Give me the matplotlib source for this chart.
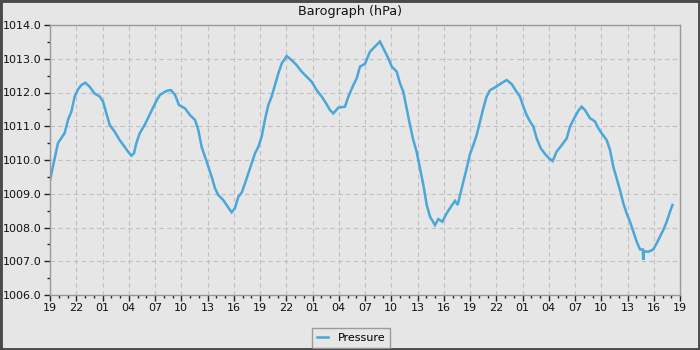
import matplotlib
matplotlib.use("Agg")
import matplotlib.pyplot as plt
from matplotlib.ticker import MultipleLocator, FixedLocator
from matplotlib.patches import Rectangle

# hours since 19:00 on the first day
hours = [0, 0.91, 1.3, 1.68, 2.06, 2.44, 2.82, 3.2, 3.58, 4.04, 4.53, 5.1, 5.68, 6.06,
         6.44, 6.82, 7.39, 7.96, 8.53, 8.91, 9.3, 9.6, 9.87, 10.25, 10.82, 11.2, 11.77,
         12.26, 12.57, 13.33, 13.83, 14.29, 14.74, 15.43, 16, 16.57, 16.95, 17.33, 17.71,
         18.1, 18.48, 18.86, 19.24, 19.81, 20.3, 20.76, 21.14, 21.52, 21.9, 22.29, 22.67,
         23.05, 23.43, 23.81, 24.19, 24.57, 24.95, 25.33, 25.71, 26.1, 26.48, 27.05, 27.62,
         28.19, 28.76, 29.33, 29.9, 30.48, 31.05, 31.43, 32, 32.38, 32.95, 33.71, 34.1,
         34.67, 35.05, 35.43, 36, 36.57, 37.14, 37.71, 38.29, 38.67, 39.05, 39.62, 40,
         40.38, 40.76, 41.14, 41.52, 41.9, 42.29, 42.67, 43.05, 43.43, 44, 44.38, 44.84,
         45.33, 45.83, 46.29, 46.59, 46.86, 47.24, 47.62, 48, 48.38, 48.76, 49.14, 49.52,
         49.9, 50.29, 50.86, 51.43, 52.19, 52.76, 53.33, 53.71, 54.1, 54.48, 54.86, 55.24,
         55.62, 56.08, 56.57, 57.03, 57.45, 57.9, 58.48, 59.05, 59.43, 59.81, 60.38, 60.76,
         61.14, 61.71, 62.29, 62.67, 63.05, 63.62, 64, 64.38, 64.76, 65.14, 65.52, 65.9,
         66.29, 66.67, 67.05, 67.43, 67.75, 67.8, 67.9, 68.38, 68.95, 69.33, 69.71, 70.1,
         70.48, 70.86, 71.14]

pressure = [1009.4, 1010.5, 1010.65, 1010.8, 1011.19, 1011.43, 1011.88, 1012.09, 1012.22,
            1012.29, 1012.17, 1011.97, 1011.88, 1011.73, 1011.38, 1011.04, 1010.84, 1010.59,
            1010.39, 1010.25, 1010.13, 1010.2, 1010.5, 1010.79, 1011.04, 1011.24, 1011.55,
            1011.8, 1011.93, 1012.05, 1012.07, 1011.93, 1011.63, 1011.53, 1011.33, 1011.19,
            1010.89, 1010.39, 1010.1, 1009.8, 1009.5, 1009.16, 1008.96, 1008.81, 1008.62,
            1008.45, 1008.57, 1008.91, 1009.03, 1009.31, 1009.61, 1009.9, 1010.2, 1010.39,
            1010.69, 1011.2, 1011.63, 1011.88, 1012.22, 1012.57, 1012.86, 1013.08, 1012.96,
            1012.81, 1012.62, 1012.47, 1012.32, 1012.07, 1011.88, 1011.73, 1011.48, 1011.38,
            1011.55, 1011.58, 1011.88, 1012.22, 1012.42, 1012.77, 1012.85, 1013.21, 1013.36,
            1013.51, 1013.21, 1013.01, 1012.77, 1012.62, 1012.27, 1012.02, 1011.53, 1011.04,
            1010.59, 1010.25, 1009.75, 1009.26, 1008.67, 1008.32, 1008.07, 1008.25, 1008.17,
            1008.42, 1008.62, 1008.79, 1008.67, 1008.96, 1009.36, 1009.75, 1010.18, 1010.44,
            1010.74, 1011.14, 1011.53, 1011.88, 1012.07, 1012.15, 1012.25, 1012.37, 1012.25,
            1012.02, 1011.88, 1011.58, 1011.33, 1011.14, 1010.99, 1010.64, 1010.35, 1010.18,
            1010.05, 1009.97, 1010.25, 1010.44, 1010.64, 1010.99, 1011.19, 1011.46, 1011.58,
            1011.48, 1011.24, 1011.14, 1010.94, 1010.79, 1010.59, 1010.3, 1009.8, 1009.46,
            1009.11, 1008.72, 1008.42, 1008.17, 1007.88, 1007.58, 1007.35, 1007.35, 1007.04,
            1007.3, 1007.28, 1007.35, 1007.53, 1007.73, 1007.93, 1008.17, 1008.47, 1008.67]

tick_hours = list(range(0, 73, 3))
tick_labels = ["19", "22", "01", "04", "07", "10", "13", "16",
               "19", "22", "01", "04", "07", "10", "13", "16",
               "19", "22", "01", "04", "07", "10", "13", "16", "19"]

BG = "#e6e6e6"
LINE = "#49a7d9"

fig = plt.figure(figsize=(7, 3.5), dpi=100, facecolor=BG)
ax = fig.add_axes([50 / 700, 1 - 295 / 350, 630 / 700, 270 / 350])
ax.set_facecolor(BG)

ax.plot(hours, pressure, color=LINE, lw=1.8, solid_joinstyle="miter", label="Pressure")

ax.set_xlim(0, 72)
ax.set_ylim(1006, 1014)
ax.xaxis.set_major_locator(FixedLocator(tick_hours))
ax.set_xticklabels(tick_labels)
ax.xaxis.set_minor_locator(MultipleLocator(1))
ax.yaxis.set_major_locator(MultipleLocator(1))
ax.yaxis.set_minor_locator(MultipleLocator(0.5))
ax.yaxis.set_major_formatter(matplotlib.ticker.FormatStrFormatter("%.1f"))

ax.tick_params(which="major", length=4, width=1, color="#222222", labelsize=8,
               labelcolor="#111111", pad=2)
ax.tick_params(which="minor", length=2.2, width=1, color="#222222")

ax.grid(True, which="major", color="#c0c0c0", lw=0.8, linestyle=(0, (4, 3)))
ax.set_axisbelow(True)
for s in ax.spines.values():
    s.set_color("#999999")
    s.set_linewidth(1)

fig.text(0.5, 1 - 12 / 350, "Barograph (hPa)", ha="center", va="center",
         fontsize=9.2, color="#111111")

leg = fig.legend(loc="center", bbox_to_anchor=(351 / 700, 1 - 338 / 350),
                 fontsize=8, frameon=True, fancybox=False, handlelength=1.0,
                 handletextpad=0.9, borderpad=0.45, borderaxespad=0)
leg.get_frame().set_edgecolor("#888888")
leg.get_frame().set_facecolor(BG)
leg.get_frame().set_linewidth(1)

fig.patches.append(Rectangle((0, 0), 1, 1, transform=fig.transFigure, fill=False,
                             edgecolor="#4a4a4a", lw=3.5))

fig.savefig("out.png", dpi=100, facecolor=BG)
